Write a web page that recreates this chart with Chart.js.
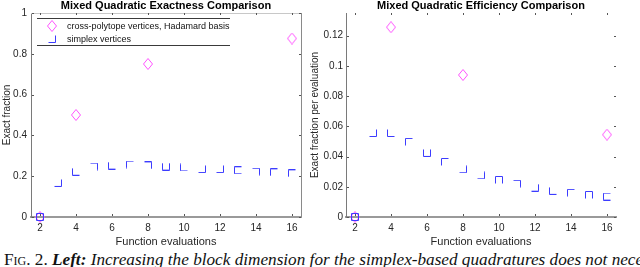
<!DOCTYPE html>
<html><head><meta charset="utf-8">
<script src="https://cdn.jsdelivr.net/npm/chart.js@4"></script>
<style>
html,body{margin:0;padding:0;background:#fff;width:640px;height:267px;overflow:hidden;position:relative;}
#c1{position:absolute;left:0;top:0;}
#c2{position:absolute;left:300px;top:0;}
#cap{position:absolute;left:4px;top:250px;white-space:nowrap;font-family:"Liberation Serif","DejaVu Serif",serif;font-size:17.2px;font-style:italic;color:#111;line-height:20px;}
#cap .sc{font-style:normal;font-variant:small-caps;}
</style></head>
<body>
<canvas id="c1" width="320" height="250"></canvas>
<canvas id="c2" width="340" height="250"></canvas>
<div id="cap"><span class="sc">Fig. 2.</span> <b>Left:</b> Increasing the block dimension for the simplex-based quadratures does not necessarily improve</div>
<script>
// ---------------- data ----------------
const simplexEvals = [2,3,4,5,6,7,8,9,10,11,12,13,14,15,16];
const crossEvals = [2,4,8,16];
const crossExact = [0,0.5,0.75,0.875];
const simplexExact = [0,0.167,0.222,0.247,0.252,0.257,0.253,0.247,0.243,0.235,0.235,0.229,0.222,0.219,0.214];
const crossEff = [0,0.1256,0.094,0.0545];
const simplexEff = [0,0.0556,0.0556,0.0497,0.0424,0.0364,0.0316,0.0276,0.0245,0.022,0.0194,0.0173,0.016,0.0146,0.0135];
const xTickValues = [2,4,6,8,10,12,14,16];
const leftYTicks = [0,0.2,0.4,0.6,0.8,1];
const rightYTicks = [0,0.02,0.04,0.06,0.08,0.1,0.12];
const seriesLabels = ['cross-polytope vertices, Hadamard basis','simplex vertices'];
const titles = ['Mixed Quadratic Exactness Comparison','Mixed Quadratic Efficiency Comparison'];
const yTitles = ['Exact fraction','Exact fraction per evaluation'];
const xTitle = 'Function evaluations';

// ---------------- styles ----------------
const MAG = '#ff55ff', BLUE = '#3c3cff';
const FONT = '"Liberation Sans", Arial, sans-serif';
const shapesLeft = ['sq','rb','lb','tr','lb','tl','tr','lbr','lb','rb','rb','tlb','tr','tl','tl'];
const shapesRight = ['sq','rb','lb','tl','lbr','tl','rb','rb','tlr','tr','rb','lb','tl','tlr','tlb'];

function diamond(w,h,color){
  const c=document.createElement('canvas');c.width=w;c.height=h;
  const g=c.getContext('2d');g.strokeStyle=color;g.lineWidth=1;
  g.beginPath();g.moveTo(w/2,0.5);g.lineTo(w-0.5,h/2);g.lineTo(w/2,h-0.5);g.lineTo(0.5,h/2);g.closePath();g.stroke();
  return c;
}
const bracketCache={};
function bracket(sides){
  if(bracketCache[sides]) return bracketCache[sides];
  const w=8,h=8;
  const c=document.createElement('canvas');c.width=w;c.height=h;
  const g=c.getContext('2d');g.strokeStyle=BLUE;g.lineWidth=1;
  const s = sides==='sq'?'tlbr':sides;
  g.beginPath();
  if(s.includes('t')){g.moveTo(0.5,0.5);g.lineTo(w-0.5,0.5);}
  if(s.includes('b')){g.moveTo(0.5,h-0.5);g.lineTo(w-0.5,h-0.5);}
  if(s.includes('l')){g.moveTo(0.5,0.5);g.lineTo(0.5,h-0.5);}
  if(s.includes('r')){g.moveTo(w-0.5,0.5);g.lineTo(w-0.5,h-0.5);}
  g.stroke();
  bracketCache[sides]=c;return c;
}
const diamondImg = diamond(10,12,MAG);

const fmt = v => String(Math.round(v*1000)/1000);

const framePlugin = {
  id:'frame',
  afterDatasetsDraw(chart, args, o){
    const {ctx, chartArea:a, scales:{x,y}} = chart;
    ctx.save();
    ctx.lineWidth=1;
    if(o.topLine){ctx.strokeStyle='#c8c8c8';ctx.beginPath();ctx.moveTo(a.left,a.top+0.5);ctx.lineTo(a.right,a.top+0.5);ctx.stroke();}
    if(o.rightLine){ctx.strokeStyle='#8a8a8a';ctx.beginPath();ctx.moveTo(a.right+0.5,a.top);ctx.lineTo(a.right+0.5,a.bottom);ctx.stroke();}
    ctx.strokeStyle='#555';
    ctx.beginPath();
    const L=2;
    x.ticks.forEach(t=>{
      const px=Math.round(x.getPixelForValue(t.value))+0.5;
      ctx.moveTo(px,a.bottom-1);ctx.lineTo(px,a.bottom-1-L);
      ctx.moveTo(px,a.top);ctx.lineTo(px,a.top+L);
    });
    y.ticks.forEach(t=>{
      const py=Math.round(y.getPixelForValue(t.value))+0.5;
      ctx.moveTo(a.left+1,py);ctx.lineTo(a.left+1+L,py);
      ctx.moveTo(a.right,py);ctx.lineTo(a.right-L,py);
    });
    ctx.stroke();
    // title centred over the plot area
    ctx.font='bold 11px '+FONT;ctx.fillStyle='#000';ctx.textAlign='center';ctx.textBaseline='middle';
    ctx.fillText(o.title,(a.left+a.right)/2,5.5);
    ctx.restore();
  }
};

const legendPlugin = {
  id:'boxLegend',
  afterDraw(chart, args, o){
    if(!o.show) return;
    const ctx=chart.ctx;
    ctx.save();
    ctx.strokeStyle='#3a3a3a';ctx.lineWidth=1;
    ctx.beginPath();
    ctx.moveTo(37,18.5);ctx.lineTo(230,18.5);
    ctx.moveTo(37,45.5);ctx.lineTo(230,45.5);
    ctx.stroke();
    ctx.font='9px '+FONT;ctx.fillStyle='#111';ctx.textBaseline='middle';
    chart.data.datasets.forEach((ds,i)=>{
      const cy = i===0?26:39;
      const img = i===0?diamondImg:bracket('rb');
      ctx.drawImage(img, 52-img.width/2, Math.round(cy-img.height/2));
      ctx.fillText(ds.label, 67, cy+0.5);
    });
    ctx.restore();
  }
};

function makeChart(id, exactCross, exactSimplex, yTicks, ymax, shapes, leftW, padRight, titlePad, idx){
  return new Chart(document.getElementById(id), {
    type:'scatter',
    data:{datasets:[
      {label:seriesLabels[0], data:crossEvals.map((e,i)=>({x:e,y:exactCross[i]})),
       pointStyle:diamondImg, pointRadius:6, showLine:false, clip:false, order:1,
       borderColor:MAG, backgroundColor:MAG},
      {label:seriesLabels[1], data:simplexEvals.map((e,i)=>({x:e,y:exactSimplex[i]})),
       pointStyle:ctx=>bracket(shapes[ctx.dataIndex]||'sq'), pointRadius:5, showLine:false, clip:false, order:0,
       borderColor:BLUE, backgroundColor:BLUE}
    ]},
    options:{
      responsive:false, animation:false, devicePixelRatio:1,
      layout:{padding:{left:0,right:padRight,top:13,bottom:0}},
      plugins:{
        legend:{display:false}, tooltip:{enabled:false}, title:{display:false},
        frame:{topLine:idx===0,rightLine:idx===0,title:titles[idx]},
        boxLegend:{show:idx===0}
      },
      scales:{
        x:{type:'linear',min:1.5,max:16.5,
           afterBuildTicks:s=>{s.ticks=xTickValues.map(v=>({value:v}));},
           afterFit:s=>{s.height=33;},
           grid:{display:false,drawTicks:false},
           border:{display:true,color:'#9a9a9a',width:2},
           ticks:{color:'#262626',font:{family:FONT,size:10},padding:5,callback:v=>fmt(v),maxRotation:0,autoSkip:false},
           title:{display:true,text:xTitle,color:'#262626',font:{family:FONT,size:11},padding:{top:0,bottom:1}}
        },
        y:{type:'linear',min:0,max:ymax,
           afterBuildTicks:s=>{s.ticks=yTicks.map(v=>({value:v}));},
           afterFit:s=>{s.width=leftW;},
           grid:{display:false,drawTicks:false},
           border:{display:true,color:'#7a7a7a',width:1},
           ticks:{color:'#262626',font:{family:FONT,size:10},padding:idx===0?4:3,callback:v=>fmt(v),autoSkip:false},
           title:{display:true,text:yTitles[idx],color:'#262626',font:{family:FONT,size:10},padding:{top:titlePad,bottom:0}}
        }
      }
    },
    plugins:[framePlugin, legendPlugin]
  });
}

makeChart('c1', crossExact, simplexExact, leftYTicks, 1, shapesLeft, 31, 19, 1, 0);
makeChart('c2', crossEff, simplexEff, rightYTicks, 0.135, shapesRight, 46, 24, 9, 1);
</script>
</body></html>
